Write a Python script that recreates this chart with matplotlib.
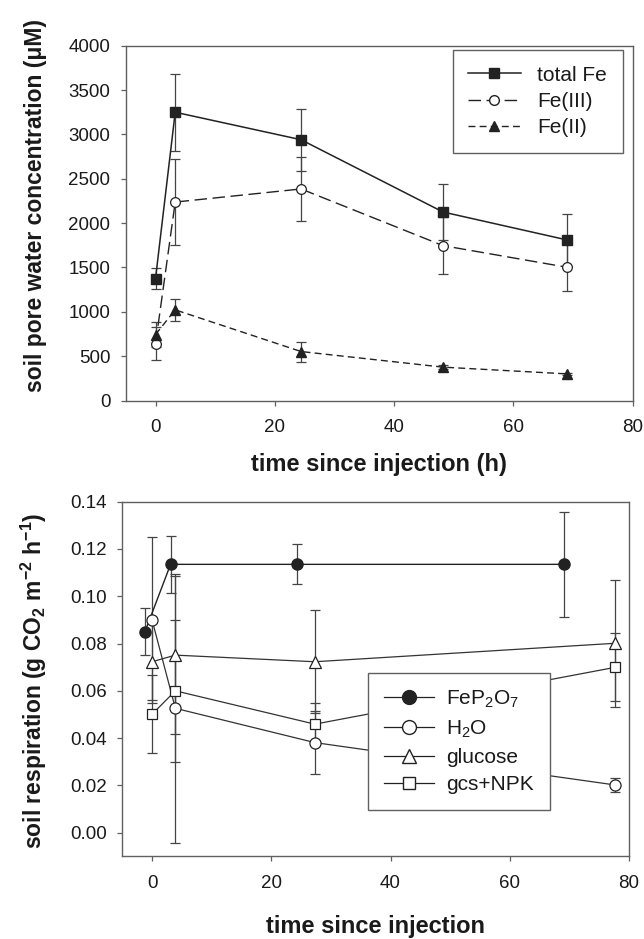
import matplotlib
matplotlib.use("Agg")
import matplotlib.pyplot as plt
from matplotlib.lines import Line2D

plt.rcParams['font.family'] = ['Liberation Sans', 'DejaVu Sans']
plt.rcParams['mathtext.fontset'] = 'custom'
plt.rcParams['mathtext.rm'] = 'Liberation Sans'
plt.rcParams['mathtext.it'] = 'Liberation Sans'
plt.rcParams['mathtext.bf'] = 'Liberation Sans:bold'
plt.rcParams['mathtext.default'] = 'regular'

# ---------------- data: top panel (soil pore water) ----------------
t_fe = [0, 3.3, 24.4, 48.2, 69]
total_fe = [1375, 3250, 2940, 2125, 1810]
total_fe_err = [120, 432, 348, 320, 293]
fe3 = [640, 2237, 2385, 1746, 1502]
fe3_err = [188, 488, 357, 320, 270]
fe2 = [744, 1022, 552, 376, 300]
fe2_err = [139, 125, 113, 25, 15]

# ---------------- data: bottom panel (soil respiration) ----------------
t_fep = [-1.2, 3.1, 24.3, 69.1]
fep = [0.085, 0.1135, 0.1135, 0.1135]
fep_err = [0.0099, 0.012, 0.0085, 0.0223]
t_trt = [0, 3.9, 27.3, 77.6]
h2o = [0.0899, 0.0526, 0.0381, 0.0202]
h2o_err = [0.035, 0.0568, 0.0133, 0.003]
glucose = [0.0723, 0.0751, 0.0723, 0.0801]
glucose_err = [0.0162, 0.0333, 0.0218, 0.0268]
gcs = [0.0501, 0.0600, 0.0459, 0.0699]
gcs_err = [0.0166, 0.030, 0.0088, 0.0144]

x_ticks = [0, 20, 40, 60, 80]
y1_ticks = [0, 500, 1000, 1500, 2000, 2500, 3000, 3500, 4000]
y2_ticks = [0.00, 0.02, 0.04, 0.06, 0.08, 0.10, 0.12, 0.14]

W, H = 644, 939
fig = plt.figure(figsize=(W / 100, H / 100), dpi=100)

spine_c = '#606060'
line_c = '#222222'
err_c = '#444444'
txt_c = '#1a1a1a'


def px_axes(l, t, r, b):
    return fig.add_axes([l / W, 1 - b / H, (r - l) / W, (b - t) / H])


def style(ax):
    for s in ax.spines.values():
        s.set_color(spine_c)
        s.set_linewidth(1.0)
    ax.tick_params(axis='both', direction='out', length=3.6, width=0.9,
                   color=spine_c, labelsize=13.5, labelcolor=txt_c)
    ax.tick_params(axis='x', pad=10)
    ax.tick_params(axis='y', pad=7.5)
    ax.tick_params(top=False, right=False)


# ---------------- top panel ----------------
ax1 = px_axes(125.7, 45.7, 632.7, 400.5)
style(ax1)
ekw = dict(ecolor=err_c, elinewidth=0.9, capsize=3.6, capthick=0.9)
ax1.errorbar(t_fe, total_fe, yerr=total_fe_err, color=line_c, lw=1.1,
             marker='s', ms=6.5, mfc=line_c, mec=line_c, zorder=3, **ekw)
ax1.errorbar(t_fe, fe3, yerr=fe3_err, color=line_c, lw=1.0, dashes=(9, 4),
             marker='o', ms=7, mfc='white', mec=line_c, mew=0.9, zorder=3, **ekw)
ax1.errorbar(t_fe, fe2, yerr=fe2_err, color=line_c, lw=1.0, dashes=(5, 3),
             marker='^', ms=7, mfc=line_c, mec=line_c, zorder=3, **ekw)
ax1.set_xlim(-5, 80)
ax1.set_ylim(0, 4000)
ax1.set_xticks(x_ticks)
ax1.set_yticks(y1_ticks)

h1 = [Line2D([], [], color=line_c, lw=1.1, marker='s', ms=6.5, mfc=line_c, mec=line_c),
      Line2D([], [], color=line_c, lw=1.0, dashes=(9, 4), marker='o', ms=7, mfc='white', mec=line_c),
      Line2D([], [], color=line_c, lw=1.0, dashes=(5, 3), marker='^', ms=7, mfc=line_c, mec=line_c)]
leg1 = ax1.legend(h1, ['total Fe', 'Fe(III)', 'Fe(II)'], loc='upper right',
                  bbox_to_anchor=(0.980, 0.988), fontsize=15, handlelength=2.5,
                  handletextpad=0.8, labelspacing=0.35, borderpad=0.75,
                  fancybox=False, framealpha=1, edgecolor=spine_c, borderaxespad=0)
leg1.get_frame().set_linewidth(1.0)
for t in leg1.get_texts():
    t.set_color(txt_c)

fig.text(36 / W, 1 - 205 / H, 'soil pore water concentration (\u03bcM)',
         rotation=90, ha='center', va='center', fontsize=16.5,
         fontweight='bold', color=txt_c)
fig.text((125.7 + 632.7) / 2 / W, 1 - 453 / H, 'time since injection (h)',
         ha='center', va='top', fontsize=17, fontweight='bold', color=txt_c)

# ---------------- bottom panel ----------------
ax2 = px_axes(122.3, 501.7, 629.0, 856.3)
style(ax2)
ekw2 = dict(ecolor=err_c, elinewidth=0.9, capsize=3.6, capthick=0.9)
ax2.errorbar(t_fep, fep, yerr=fep_err, color=line_c, lw=1.0,
             marker='o', ms=8, mfc=line_c, mec=line_c, zorder=3, **ekw2)
ax2.errorbar(t_trt, h2o, yerr=h2o_err, color='#333333', lw=0.9,
             marker='o', ms=8, mfc='white', mec=line_c, mew=0.9, zorder=3, **ekw2)
ax2.errorbar(t_trt, glucose, yerr=glucose_err, color='#333333', lw=0.9,
             marker='^', ms=8, mfc='white', mec=line_c, mew=0.9, zorder=3, **ekw2)
ax2.errorbar(t_trt, gcs, yerr=gcs_err, color='#333333', lw=0.9,
             marker='s', ms=7, mfc='white', mec=line_c, mew=0.9, zorder=3, **ekw2)
ax2.set_xlim(-5, 80)
ax2.set_ylim(-0.01, 0.14)
ax2.set_xticks(x_ticks)
ax2.set_yticks(y2_ticks)
ax2.set_yticklabels(['%.2f' % v for v in y2_ticks])

h2 = [Line2D([], [], color=line_c, lw=0.9, marker='o', ms=10, mfc=line_c, mec=line_c),
      Line2D([], [], color=line_c, lw=0.9, marker='o', ms=10, mfc='white', mec=line_c),
      Line2D([], [], color=line_c, lw=0.9, marker='^', ms=10, mfc='white', mec=line_c),
      Line2D([], [], color=line_c, lw=0.9, marker='s', ms=9, mfc='white', mec=line_c)]
leg2 = ax2.legend(h2, ['FeP$_2$O$_7$', 'H$_2$O', 'glucose', 'gcs+NPK'],
                  loc='lower left', bbox_to_anchor=(0.4855, 0.1306), fontsize=15,
                  handlelength=2.4, handletextpad=0.6, labelspacing=0.4,
                  borderpad=0.75, fancybox=False, framealpha=1, edgecolor=spine_c,
                  borderaxespad=0)
leg2.get_frame().set_linewidth(1.0)
for t in leg2.get_texts():
    t.set_color(txt_c)

fig.text(34 / W, 1 - 681 / H, 'soil respiration (g CO$_\\mathbf{2}$ m$^\\mathbf{-2}$ h$^\\mathbf{-1}$)',
         rotation=90, ha='center', va='center', fontsize=16.5,
         fontweight='bold', color=txt_c)
fig.text((122.3 + 629.0) / 2 / W, 1 - 915 / H, 'time since injection',
         ha='center', va='top', fontsize=17, fontweight='bold', color=txt_c)

fig.savefig('out.png', dpi=100, facecolor='white')
